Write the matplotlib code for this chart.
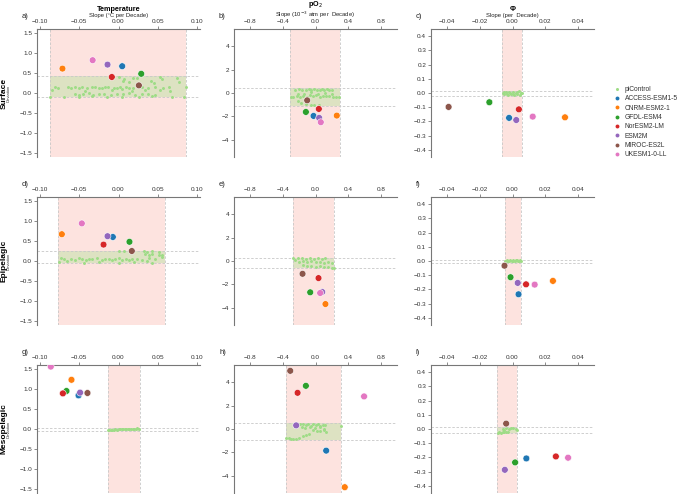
import numpy as np
import matplotlib
matplotlib.use("Agg")
import matplotlib.pyplot as plt
from matplotlib.lines import Line2D

plt.rcParams["font.family"] = ["Liberation Sans", "DejaVu Sans"]

# ---- data ----
models = ["ACCESS-ESM1-5", "CNRM-ESM2-1", "GFDL-ESM4", "NorESM2-LM", "ESM2M", "MIROC-ES2L", "UKESM1-0-LL"]
model_colors = ["#1f77b4", "#ff7f0e", "#2ca02c", "#d62728", "#9467bd", "#8c564b", "#e377c2"]
nan = np.nan

# model slopes (x) and deviations (y), in model order
a_x = [0.0047, -0.0715, 0.029, -0.0085, -0.014, 0.026, -0.033]
a_y = [0.67, 0.61, 0.48, 0.40, 0.71, 0.19, 0.82]
b_x = [-0.024, 0.261, -0.118, 0.041, 0.045, -0.102, 0.065]
b_y = [-1.97, -1.94, -1.63, -1.37, -2.14, -0.63, -2.51]
c_x = [-0.0021, 0.0322, -0.0142, 0.0039, 0.0023, -0.0392, 0.0124]
c_y = [-0.175, -0.171, -0.065, -0.115, -0.19, -0.098, -0.166]
d_x = [-0.0072, -0.0723, 0.014, -0.0191, -0.014, 0.017, -0.0468]
d_y = [0.60, 0.67, 0.48, 0.41, 0.62, 0.25, 0.94]
e_x = [nan, 0.122, -0.065, 0.037, 0.082, -0.159, 0.057]
e_y = [nan, -3.70, -2.69, -1.47, -2.66, -1.10, -2.75]
f_x = [0.0037, 0.0248, -0.0012, 0.0083, 0.0032, -0.0049, 0.0136]
f_y = [-0.234, -0.14, -0.114, -0.164, -0.154, -0.033, -0.166]
g_x = [-0.051, -0.060, -0.0664, -0.071, -0.049, -0.0396, -0.0864]
g_y = [0.84, 1.23, 0.95, 0.89, 0.91, 0.90, 1.56]
h_x = [0.131, 0.359, -0.118, -0.22, -0.237, -0.31, 0.596]
h_y = [-1.86, -5.0, 3.71, 3.11, 0.31, 5.0, 2.8]
i_x = [0.0085, nan, 0.0016, 0.0266, -0.0047, -0.0039, 0.0341]
i_y = [-0.207, nan, -0.235, -0.193, -0.287, 0.038, -0.202]

# piControl slope range (x) and deviation range (y)
a_band = [-0.0872, 0.086, -0.11, 0.42]
b_band = [-0.314, 0.306, -1.11, 0.40]
c_band = [-0.0066, 0.006, -0.021, 0.014]
d_band = [-0.0766, 0.0587, -0.058, 0.257]
e_band = [-0.278, 0.233, -0.64, 0.29]
f_band = [-0.0047, 0.0055, -0.016, 0.007]
g_band = [-0.014, 0.0268, -0.04, 0.025]
h_band = [-0.367, 0.318, -0.94, 0.49]
i_band = [-0.0093, 0.003, -0.028, 0.012]

# piControl points
pi_a_x = [0.000, 0.007, 0.018, 0.024, 0.053, 0.056, 0.075,
          0.006, 0.014, 0.041, 0.045, 0.077,
          -0.081, -0.077, -0.064, -0.060, -0.055, -0.051, -0.047, -0.040, -0.034, -0.030, -0.025, -0.021, -0.017,
          -0.013, -0.006, -0.002, 0.002, 0.009, 0.013, 0.019, 0.030, 0.038, 0.047, 0.057, 0.064, 0.086,
          -0.085, -0.043, -0.008, 0.004, 0.017, 0.034, 0.053, 0.066,
          -0.055, -0.051, -0.045, -0.038, -0.032, -0.025, -0.019, -0.010, -0.002, 0.006, 0.013, 0.021, 0.030, 0.038, 0.047,
          -0.087, -0.070, -0.051, -0.034, -0.015, 0.004, 0.026, 0.043, 0.068, 0.084]
pi_a_y = [0.40, 0.36, 0.38, 0.37, 0.40, 0.36, 0.38,
          0.29, 0.27, 0.30, 0.26, 0.28,
          0.15, 0.13, 0.14, 0.12, 0.15, 0.13, 0.14, 0.12, 0.15, 0.14, 0.12, 0.13, 0.15,
          0.14, 0.12, 0.13, 0.15, 0.14, 0.12, 0.13, 0.15, 0.13, 0.14, 0.12, 0.15, 0.14,
          0.08, 0.06, 0.07, 0.09, 0.06, 0.08, 0.07, 0.06,
          -0.02, -0.04, -0.03, -0.01, -0.04, -0.02, -0.03, -0.04, -0.02, -0.03, -0.01, -0.04, -0.02, -0.03, -0.04,
          -0.10, -0.09, -0.11, -0.08, -0.10, -0.09, -0.11, -0.08, -0.10, -0.09]
pi_b_x = [-0.25, -0.2, -0.16, -0.12, -0.08, -0.05, -0.02, 0.02, 0.05, 0.08, 0.11, 0.14, 0.17, 0.2,
          -0.3, -0.27, -0.23, -0.19, -0.15, -0.11, -0.07, -0.03, 0.01, 0.05, 0.09, 0.13, 0.17, 0.21, 0.25, 0.29,
          -0.22, -0.14, -0.06, 0.03, 0.12, 0.2,
          -0.22, -0.18, -0.12, -0.06, -0.02, 0.04]
pi_b_y = [0.28, 0.32, 0.25, 0.3, 0.35, 0.27, 0.33, 0.3, 0.26, 0.32, 0.29, 0.34, 0.27, 0.3,
          -0.35, -0.38, -0.3, -0.36, -0.25, -0.33, -0.15, -0.28, -0.2, -0.32, -0.25, -0.3, -0.22, -0.35, -0.33, -0.38,
          -0.05, -0.1, 0.05, -0.08, 0.0, -0.12,
          -0.7, -0.85, -0.95, -1.05, -1.0, -1.05]
pi_c_x = [-0.006, -0.005, -0.004, -0.003, -0.002, -0.001, 0.0, 0.001, 0.002, 0.003, 0.004, 0.005, 0.006,
          -0.0055, -0.0035, -0.0015, 0.0005, 0.0025, 0.0045]
pi_c_y = [0.0, -0.01, 0.005, -0.012, 0.008, -0.005, 0.01, -0.015, 0.003, -0.008, 0.012, -0.003, 0.0,
          0.009, -0.004, 0.002, -0.01, 0.006, -0.014]
pi_d_x = [0.000, 0.007, 0.032, 0.037, 0.043, 0.052,
          0.034, 0.039, 0.043, 0.052, 0.056,
          -0.074, -0.070, -0.061, -0.055, -0.051, -0.046, -0.042, -0.038, -0.034, -0.027, -0.021, -0.017, -0.012,
          -0.008, -0.004, 0.000, 0.005, 0.009, 0.013, 0.017, 0.024, 0.030, 0.039, 0.047, 0.056,
          -0.076, -0.066, -0.044, -0.025, 0.000, 0.020, 0.037, 0.043]
pi_d_y = [0.25, 0.24, 0.25, 0.22, 0.24, 0.23,
          0.18, 0.15, 0.17, 0.14, 0.16,
          0.08, 0.04, 0.06, 0.03, 0.07, 0.05, 0.02, 0.06, 0.04, 0.07, 0.03, 0.05, 0.06,
          0.02, 0.04, 0.07, 0.03, 0.05, 0.02, 0.06, 0.04, 0.03, 0.07, 0.05, 0.09,
          -0.03, -0.01, -0.04, -0.02, -0.05, -0.03, -0.01, -0.04]
pi_e_x = [-0.27, -0.22, -0.17, -0.12, -0.07, -0.02, 0.03, 0.08, 0.12,
          -0.25, -0.2, -0.15, -0.1, -0.05, 0.0, 0.05, 0.1, 0.15, 0.2,
          -0.15, -0.1, -0.05, 0.0, 0.05, 0.1, 0.15, 0.2, 0.23]
pi_e_y = [0.25, 0.22, 0.27, 0.18, 0.24, 0.2, 0.26, 0.15, 0.22,
          0.05, -0.05, 0.0, -0.1, -0.02, -0.12, -0.05, -0.15, -0.1, -0.2,
          -0.35, -0.45, -0.4, -0.5, -0.45, -0.55, -0.5, -0.6, -0.58]
pi_f_x = [-0.0045, -0.0035, -0.0025, -0.0015, -0.0005, 0.0005, 0.0015, 0.0025, 0.0035, 0.0045, 0.0055,
          -0.004, -0.002, 0.0, 0.002, 0.004]
pi_f_y = [0.002, 0.005, -0.002, 0.006, 0.0, 0.004, -0.003, 0.005, 0.001, 0.006, 0.003,
          -0.004, 0.003, -0.002, 0.006, -0.001]
pi_g_x = [-0.014, -0.012, -0.01, -0.008, -0.006, -0.004, -0.002, 0.0, 0.002, 0.004, 0.006,
          0.008, 0.01, 0.012, 0.014, 0.016, 0.018, 0.02, 0.022, 0.024, 0.026]
pi_g_y = [-0.03, -0.02, -0.025, -0.015, -0.02, -0.01, -0.018, -0.005, -0.012, 0.0, -0.008,
          0.005, -0.003, 0.008, 0.0, 0.01, 0.004, 0.012, 0.006, 0.015, 0.01]
pi_h_x = [-0.19, -0.15, -0.12, -0.09, -0.06, -0.03, 0.0, 0.03, 0.06, 0.09, 0.12, -0.17, -0.13, -0.07, -0.01, 0.05, 0.1,
          0.02, 0.06, 0.1, 0.13, -0.03,
          -0.36, -0.33, -0.3, -0.27, -0.24, -0.2, -0.15, -0.12, -0.08,
          0.31]
pi_h_y = [0.4, 0.45, 0.35, 0.42, 0.3, 0.4, 0.35, 0.45, 0.3, 0.38, 0.32, 0.15, 0.1, 0.2, 0.05, 0.15, 0.0,
          -0.15, -0.2, -0.1, -0.25, -0.12,
          -0.75, -0.8, -0.85, -0.88, -0.9, -0.78, -0.6, -0.55, -0.45,
          0.25]
pi_i_x = [-0.006, -0.004, -0.002, 0.0, 0.002, 0.003, -0.005, -0.001,
          -0.009, -0.008, -0.007, -0.006, -0.005, -0.004, -0.003]
pi_i_y = [0.0, 0.005, -0.003, 0.006, 0.0, -0.005, -0.008, 0.004,
          -0.025, -0.022, -0.027, -0.02, -0.024, -0.018, -0.022]

# axis setup per column
col_xlim = [(-0.104, 0.104), (-1.0, 1.0), (-0.05, 0.05)]
col_ylim = [(-1.6, 1.6), (-5.5, 5.5), (-0.45, 0.45)]
col_xticks = [[-0.10, -0.05, 0.00, 0.05, 0.10], [-0.8, -0.4, 0.0, 0.4, 0.8], [-0.04, -0.02, 0.00, 0.02, 0.04]]
col_xfmt = ["{:.2f}", "{:.1f}", "{:.2f}"]
col_yticks = [[-1.5, -1.0, -0.5, 0.0, 0.5, 1.0, 1.5], [-4, -2, 0, 2, 4],
              [-0.4, -0.3, -0.2, -0.1, 0.0, 0.1, 0.2, 0.3, 0.4]]
col_yfmt = ["{:.1f}", "{:.0f}", "{:.1f}"]
col_titles = ["Temperature", "pO$_2$", "Φ"]
col_xlabels = ["Slope (°C per Decade)", "Slope (10$^{-3}$ atm per  Decade)", "Slope (per  Decade)"]
row_labels = ["Surface", "Epipelagic", "Mesopelagic"]
panel_letters = ["a)", "b)", "c)", "d)", "e)", "f)", "g)", "h)", "i)"]

panels = [
    (a_x, a_y, a_band, pi_a_x, pi_a_y), (b_x, b_y, b_band, pi_b_x, pi_b_y), (c_x, c_y, c_band, pi_c_x, pi_c_y),
    (d_x, d_y, d_band, pi_d_x, pi_d_y), (e_x, e_y, e_band, pi_e_x, pi_e_y), (f_x, f_y, f_band, pi_f_x, pi_f_y),
    (g_x, g_y, g_band, pi_g_x, pi_g_y), (h_x, h_y, h_band, pi_h_x, pi_h_y), (i_x, i_y, i_band, pi_i_x, pi_i_y),
]

W, H = 685, 494
fig = plt.figure(figsize=(W / 100, H / 100), dpi=100)

col_left = [37, 234, 431]
row_top = [29, 197, 365]
ax_w, ax_h = 163, 128

pink = "#fde3df"
band_green = "#dde2c2"
pi_green = "#9edc86"
dash = dict(color="#c8c8c8", lw=0.6, ls=(0, (3, 2)))

for k, (mx, my, band, px, py) in enumerate(panels):
    r, c = divmod(k, 3)
    ax = fig.add_axes([col_left[c] / W, 1 - (row_top[r] + ax_h) / H, ax_w / W, ax_h / H])
    ax.set_xlim(*col_xlim[c])
    ax.set_ylim(*col_ylim[c])

    x0, x1, y0, y1 = band
    ax.axvspan(x0, x1, color=pink, lw=0, zorder=0)
    ax.fill_between([x0, x1], y0, y1, color=band_green, lw=0, zorder=0.5)
    for xv in (x0, x1):
        ax.axvline(xv, zorder=0.6, **dash)
    for yv in (y0, y1):
        ax.axhline(yv, zorder=0.6, **dash)

    ax.scatter(px, py, s=4.5, color=pi_green, lw=0, zorder=2)
    ax.scatter(mx, my, s=24, c=model_colors, edgecolors="white", linewidths=0.4, zorder=3)

    for side in ("bottom", "right"):
        ax.spines[side].set_visible(False)
    for side in ("top", "left"):
        ax.spines[side].set_color("#777777")
        ax.spines[side].set_linewidth(0.8)
    ax.xaxis.tick_top()
    ax.xaxis.set_label_position("top")
    ax.set_xticks(col_xticks[c])
    ax.set_xticklabels([col_xfmt[c].format(v).replace("-", "\u2212") for v in col_xticks[c]])
    ax.set_yticks(col_yticks[c])
    ax.set_yticklabels([col_yfmt[c].format(v).replace("-", "\u2212") for v in col_yticks[c]])
    ax.tick_params(length=2, width=0.6, color="#777777", labelsize=4.6, pad=1.5, labelcolor="#333333")

    if r == 0:
        ax.set_xlabel(col_xlabels[c], fontsize=4.2, labelpad=1.5, color="#222222")
        ax.set_title(col_titles[c], fontsize=5.2, fontweight="bold", pad=1.5)
    if c == 0:
        ax.set_ylabel("Deviation", fontsize=3, labelpad=6, color="#333333")
        fig.text(4 / W, 1 - (row_top[r] + ax_h / 2) / H, row_labels[r], rotation=90,
                 fontsize=6, fontweight="bold", ha="center", va="center")
    fig.text((col_left[c] - 15) / W, 1 - (row_top[r] - 13) / H, panel_letters[k],
             fontsize=5.5, ha="left", va="center", color="#222222")

handles = [Line2D([], [], ls="", marker="o", ms=2.2, color=pi_green, mew=0)]
handles += [Line2D([], [], ls="", marker="o", ms=2.8, color=col, mew=0) for col in model_colors]
fig.legend(handles, ["piControl"] + models, loc="upper left", bbox_to_anchor=(614 / W, 1 - 86 / H),
           frameon=False, fontsize=4.8, handletextpad=0.6, labelspacing=0.35, handlelength=1.0,
           borderaxespad=0, borderpad=0)
for t in fig.legends[0].get_texts():
    t.set_color("#333333")

fig.savefig("out.png", dpi=100)
